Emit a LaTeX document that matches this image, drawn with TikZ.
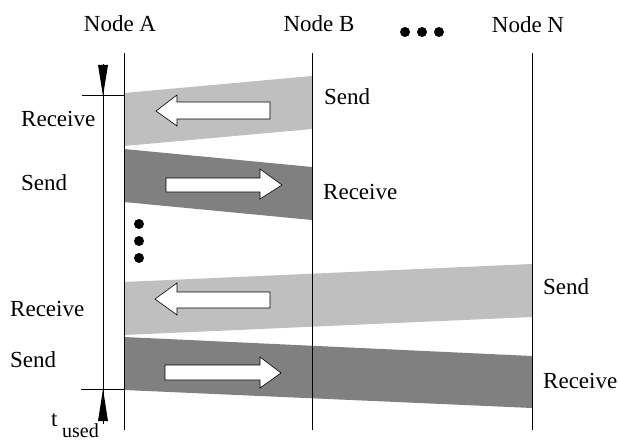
\documentclass[tikz,border=0pt]{standalone}
\usepackage{fontspec}
\setmainfont{Liberation Serif}
\begin{document}
\begin{tikzpicture}[x=1pt,y=-1pt,
  lbl/.style={inner sep=0pt,font=\fontsize{23}{27}\selectfont},
  lifeline/.style={draw=black,line width=0.8pt},
  light/.style={fill=black!25},
  dark/.style={fill=black!50},
  dirarrow/.style={fill=white,draw=black,line width=0.6pt,line join=miter},
  dot/.style={fill=black}]
\useasboundingbox (0,0) rectangle (618,441);

% column headers
\node[lbl,anchor=base] (hA) at (120,32) {Node A};
\node[lbl,anchor=base] (hB) at (319,32) {Node B};
\node[lbl,anchor=base] (hN) at (528,33) {Node N};
\foreach \x in {405,422,439} \fill[dot] (\x,32) circle (5);

% message bands (drawn first so the lifelines sit on top)
\fill[light] (124,93) -- (312,76) -- (312,129) -- (124,146) -- cycle;
\fill[dark]  (124,149) -- (312,167) -- (312,220) -- (124,202) -- cycle;
\fill[light] (124,282) -- (532,264) -- (532,317) -- (124,335) -- cycle;
\fill[dark]  (124,337) -- (532,356) -- (532,408) -- (124,390) -- cycle;

% lifelines
\coordinate (Atop) at (124,53); \coordinate (Abot) at (124,430);
\coordinate (Btop) at (312,53); \coordinate (Bbot) at (312,430);
\coordinate (Ntop) at (532,53); \coordinate (Nbot) at (532,430);
\draw[lifeline] (Atop) -- (Abot);
\draw[lifeline] (Btop) -- (Bbot);
\draw[lifeline] (Ntop) -- (Nbot);

% direction arrows inside the bands
\draw[dirarrow] (270,102) -- (177,102) -- (177,95) -- (156,111) -- (177,126) -- (177,119) -- (270,119) -- cycle;
\draw[dirarrow] (166,178) -- (260,178) -- (260,169) -- (282,185) -- (260,199) -- (260,192) -- (166,192) -- cycle;
\draw[dirarrow] (270,292) -- (177,292) -- (177,283) -- (155,299) -- (177,315) -- (177,308) -- (270,308) -- cycle;
\draw[dirarrow] (165,365) -- (260,365) -- (260,357) -- (281,373) -- (260,388) -- (260,380) -- (165,380) -- cycle;

% vertical ellipsis
\foreach \y in {224,241,258} \fill[dot] (139,\y) circle (5);

% time axis with start and end marks
\coordinate (tTop) at (103,64);
\coordinate (tBot) at (103,424);
\coordinate (tickTopL) at (82,95);  \coordinate (tickTopR) at (124,95);
\coordinate (tickBotL) at (81,389); \coordinate (tickBotR) at (124,389);
\draw[lifeline] (tTop) -- (tBot);
\draw[line width=0.6pt] (tickTopL) -- (tickTopR);
\draw[line width=0.6pt] (tickBotL) -- (tickBotR);
\fill (98,65) -- (108,65) -- (103,96) -- cycle;
\fill (98,421) -- (108,421) -- (103,389) -- cycle;
\node[lbl,anchor=base west] (tl) at (51,426) {t};
\node[inner sep=0pt,anchor=base west,font=\fontsize{20}{24}\selectfont] (tsub) at (62,437) {used};

% activity labels
\node[lbl,anchor=base west] (r1) at (21,127) {Receive};
\node[lbl,anchor=base west] (s1) at (21,190) {Send};
\node[lbl,anchor=base west] (r2) at (10,316) {Receive};
\node[lbl,anchor=base west] (s2) at (10,367) {Send};
\node[lbl,anchor=base west] (s3) at (324,105) {Send};
\node[lbl,anchor=base west] (r3) at (323,199) {Receive};
\node[lbl,anchor=base west] (s4) at (543,294) {Send};
\node[lbl,anchor=base west] (r4) at (543,388) {Receive};
\end{tikzpicture}
\end{document}
